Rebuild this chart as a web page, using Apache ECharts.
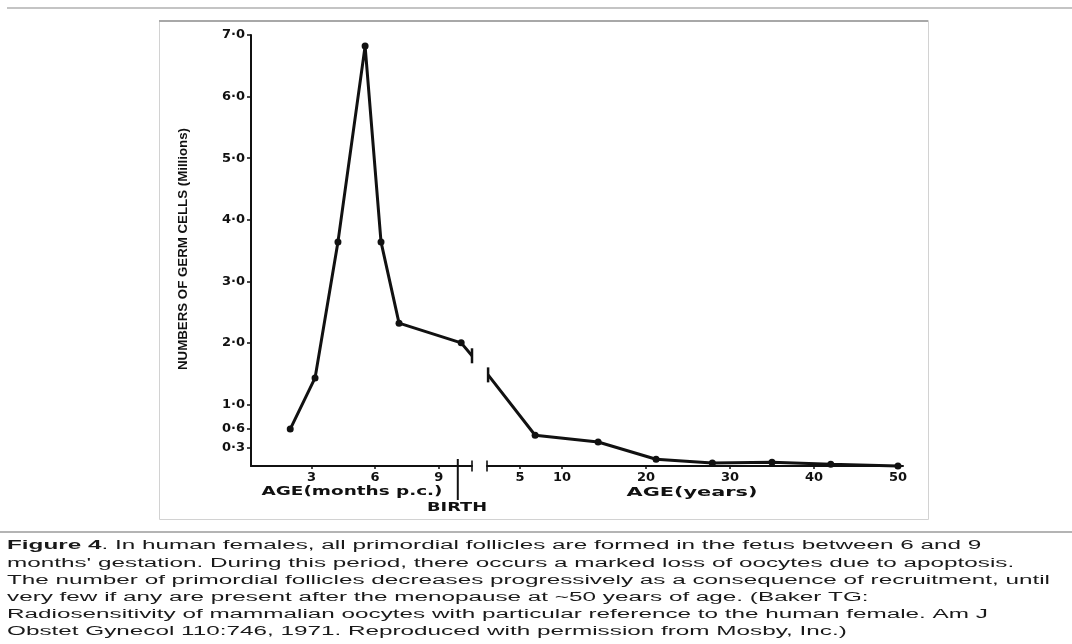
<!DOCTYPE html>
<html><head><meta charset="utf-8">
<script src="https://cdn.jsdelivr.net/npm/echarts@6/dist/echarts.min.js"></script>
<style>html,body{margin:0;padding:0;background:#fff}#c{width:1072px;height:644px}</style>
</head><body><div id="c"></div>
<script>
// ---- data ----
const monthAges  = [2.0, 3.17, 4.25, 5.53, 6.28, 7.13, 10.06, 10.57];   // months post conception
const monthCells = [0.6, 1.43, 3.64, 6.82, 3.64, 2.32, 2.0, 1.79];      // millions
const yearAges   = [1.2, 6.8, 14.3, 21.2, 27.9, 35.0, 42.0, 50.0];       // years after birth
const yearCells  = [1.48, 0.5, 0.39, 0.11, 0.05, 0.06, 0.03, 0.0];       // millions
const yTicks     = [0.3, 0.6, 1, 2, 3, 4, 5, 6, 7];
const monthTicks = [3, 6, 9];
const yearTicks  = [5, 10, 20, 30, 40, 50];
const birthMonth = 9.9;
const monthRange = [0.15, 10.57];
const yearRange  = [1.07, 50.6];
const yName = 'NUMBERS OF GERM CELLS (Millions)';
const xNameMonths = 'AGE(months p.c.)';
const xNameYears = 'AGE(years)';
const birthLabel = 'BIRTH';
const captionBold = 'Figure 4';
const captionLines = [
  '. In human females, all primordial follicles are formed in the fetus between 6 and 9',
  "months' gestation. During this period, there occurs a marked loss of oocytes due to apoptosis.",
  'The number of primordial follicles decreases progressively as a consequence of recruitment, until',
  'very few if any are present after the menopause at ~50 years of age. (Baker TG:',
  'Radiosensitivity of mammalian oocytes with particular reference to the human female. Am J',
  'Obstet Gynecol 110:746, 1971. Reproduced with permission from Mosby, Inc.)'
];

const chart = echarts.init(document.getElementById('c'), null, {renderer:'canvas'});
const ink = '#111';
const tickFont = {color: ink, fontFamily: 'DejaVu Sans', fontWeight: 'bold', fontSize: 13};
const dot = v => (Math.round(v*10)/10).toFixed(1).replace('.', '\u00b7');

const monthData = monthAges.map((a, i) => {
  const d = {value: [a, monthCells[i]]};
  if (i === monthAges.length - 1) { d.symbol = 'rect'; d.symbolSize = [2.5, 15]; }
  return d;
});
const yearData = yearAges.map((a, i) => {
  const d = {value: [a, yearCells[i]]};
  if (i === 0) { d.symbol = 'rect'; d.symbolSize = [2.5, 15]; }
  return d;
});

const axisLineStyle = {color: ink, width: 2};
const option = {
  animation: false,
  backgroundColor: '#fff',
  grid: [
    {left: 251, top: 35, width: 221, height: 431},
    {left: 487, top: 35, width: 416, height: 431}
  ],
  xAxis: [
    {gridIndex: 0, type: 'value', min: monthRange[0], max: monthRange[1],
     axisLine: {lineStyle: axisLineStyle}, splitLine: {show: false},
     axisTick: {customValues: monthTicks, length: 3, lineStyle: {color: ink, width: 1.5}},
     axisLabel: Object.assign({customValues: monthTicks, margin: 5}, tickFont)},
    {gridIndex: 1, type: 'value', min: yearRange[0], max: yearRange[1],
     axisLine: {lineStyle: axisLineStyle}, splitLine: {show: false},
     axisTick: {customValues: yearTicks, length: 3, lineStyle: {color: ink, width: 1.5}},
     axisLabel: Object.assign({customValues: yearTicks, margin: 5}, tickFont)}
  ],
  yAxis: [
    {gridIndex: 0, type: 'value', min: 0, max: 7,
     axisLine: {show: true, lineStyle: axisLineStyle}, splitLine: {show: false},
     axisTick: {show: true, customValues: yTicks, length: 4, lineStyle: {color: ink, width: 1.5}},
     axisLabel: Object.assign({customValues: yTicks, margin: 6, formatter: dot}, tickFont)},
    {gridIndex: 1, type: 'value', min: 0, max: 7, show: false}
  ],
  series: [
    {type: 'line', xAxisIndex: 0, yAxisIndex: 0, data: monthData, clip: false,
     symbol: 'circle', symbolSize: 7, showAllSymbol: true,
     lineStyle: {color: ink, width: 3}, itemStyle: {color: ink}},
    {type: 'line', xAxisIndex: 1, yAxisIndex: 1, data: yearData, clip: false,
     symbol: 'circle', symbolSize: 7, showAllSymbol: true,
     lineStyle: {color: ink, width: 3}, itemStyle: {color: ink}},
    {type: 'scatter', xAxisIndex: 0, yAxisIndex: 0, data: [[monthRange[1], 0]], clip: false,
     symbol: 'rect', symbolSize: [2, 11], itemStyle: {color: ink}, silent: true},
    {type: 'scatter', xAxisIndex: 1, yAxisIndex: 1, data: [[yearRange[0], 0]], clip: false,
     symbol: 'rect', symbolSize: [2, 11], itemStyle: {color: ink}, silent: true}
  ]
};
chart.setOption(option);

// ---- text fitting helpers ----
const ctx = document.createElement('canvas').getContext('2d');
function tw(text, font) { ctx.font = font; return ctx.measureText(text).width; }

const capFont = '12px "Liberation Sans"';
const capBoldFont = 'bold 12px "Liberation Sans"';
const capScale = 1043 / tw(captionLines[2], capFont);

const g = [];
// frame decoration
g.push({type: 'rect', shape: {x: 7, y: 7, width: 1065, height: 2}, style: {fill: '#c4c4c4'}, silent: true});
g.push({type: 'rect', shape: {x: 159.5, y: 20.5, width: 769, height: 499}, style: {fill: 'none', stroke: '#d2d2d2', lineWidth: 1}, silent: true});
g.push({type: 'rect', shape: {x: 159, y: 20, width: 769, height: 2}, style: {fill: '#a8a8a8'}, silent: true});
g.push({type: 'rect', shape: {x: 0, y: 531, width: 1072, height: 2}, style: {fill: '#b4b4b4'}, silent: true});

// axis titles
const labFont = 'bold 12px "DejaVu Sans"';
function fitted(text, cx, cy, target, font, extra) {
  const s = target / tw(text, font);
  return Object.assign({type: 'text', x: cx, y: cy, scaleX: s,
    style: {text: text, font: font, fill: ink, align: 'center', verticalAlign: 'middle'}, silent: true}, extra || {});
}
g.push(fitted(xNameMonths, 352, 492, 181, labFont));
g.push(fitted(xNameYears, 692, 493, 131, labFont));
g.push(fitted(birthLabel, 457, 508, 60, labFont));
g.push(fitted(yName, 183, 249, 242, 'bold 13px "Liberation Sans"', {rotation: Math.PI / 2}));

// birth line placed through the month axis scale
const bx = chart.convertToPixel({xAxisIndex: 0}, birthMonth);
g.push({type: 'line', shape: {x1: bx, y1: 459, x2: bx, y2: 500}, style: {stroke: ink, lineWidth: 2}, silent: true});

// caption
captionLines.forEach((line, i) => {
  const y = 546 + i * 17.2;
  if (i === 0) {
    g.push({type: 'text', x: 7, y: y, scaleX: capScale, silent: true,
      style: {text: '{b|' + captionBold + '}{r|' + line + '}', fill: '#1a1a1a', verticalAlign: 'middle', align: 'left',
        rich: {b: {font: capBoldFont, fill: '#1a1a1a'}, r: {font: capFont, fill: '#1a1a1a'}}}});
  } else {
    g.push({type: 'text', x: 7, y: y, scaleX: capScale, silent: true,
      style: {text: line, font: capFont, fill: '#1a1a1a', verticalAlign: 'middle', align: 'left'}});
  }
});

chart.setOption({graphic: {elements: g}});
</script>
</body></html>
